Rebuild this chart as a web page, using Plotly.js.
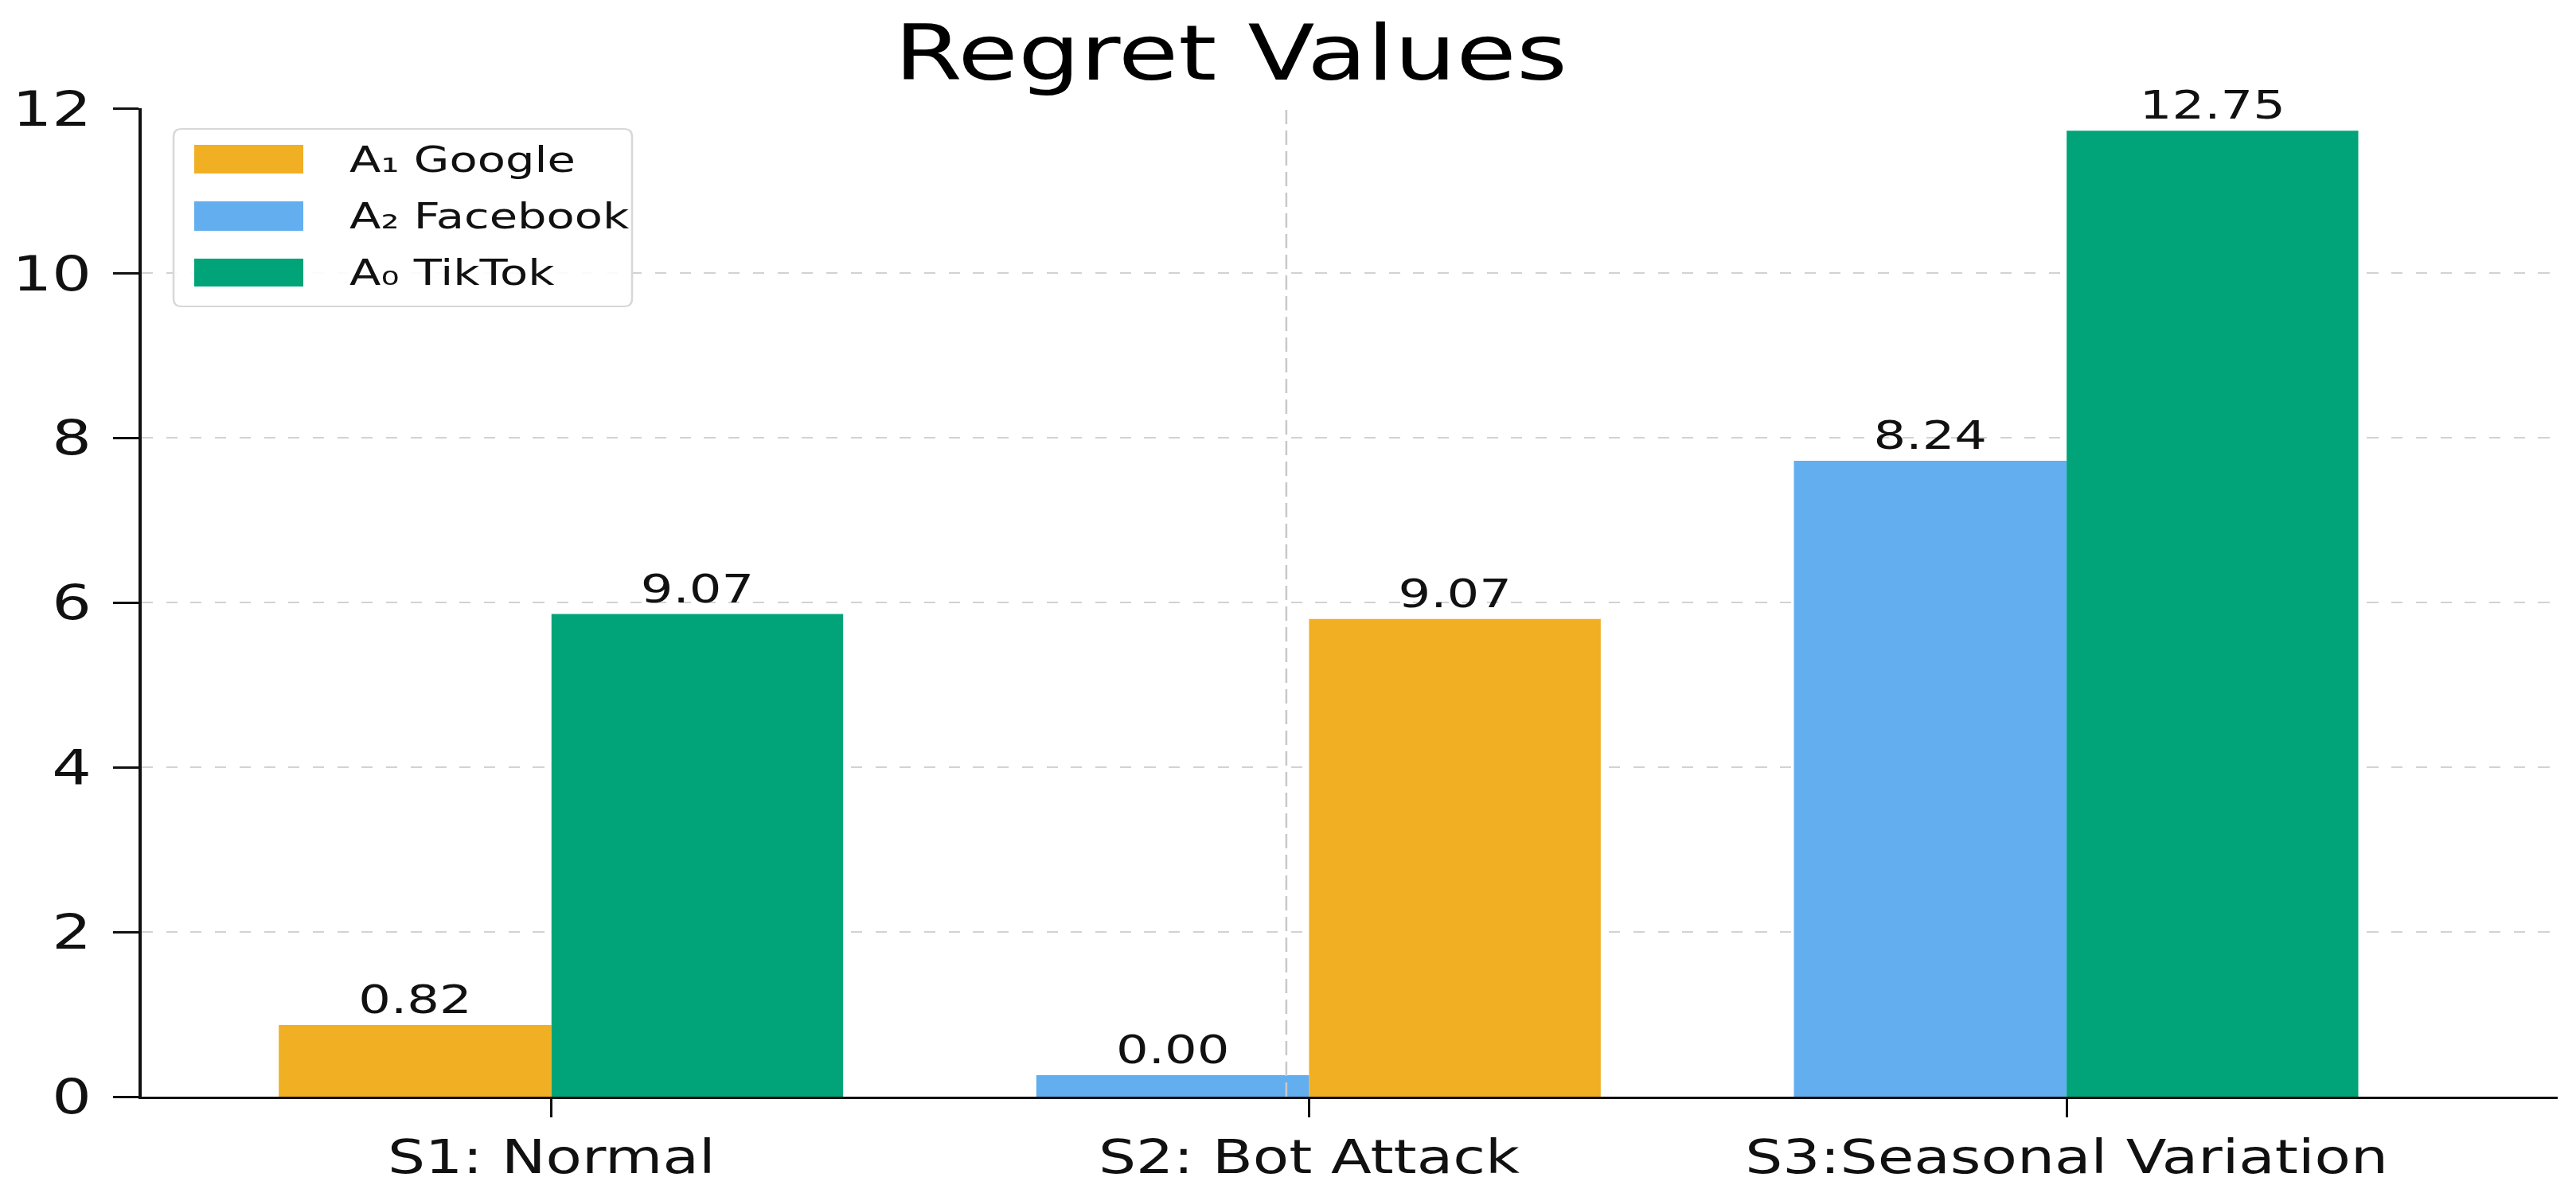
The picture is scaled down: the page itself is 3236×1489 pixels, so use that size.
<!DOCTYPE html>
<html>
<head>
<meta charset="utf-8">
<script src="https://cdn.plot.ly/plotly-3.0.1.min.js"></script>
<style>
  html, body { margin: 0; padding: 0; background: #fff; overflow: hidden; width: 3236px; height: 1489px; }
  #wrap { width: 2528px; height: 1489px; transform: scaleX(1.28); transform-origin: 0 0; }
</style>
</head>
<body>
<div id="wrap"><div id="chart"></div></div>
<script>
// ---------------- data ----------------
const categories = ["S1: Normal", "S2: Bot Attack", "S3:Seasonal Variation"];
const seriesNames = ["A\u2081 Google", "A\u2082 Facebook", "A\u2080 TikTok"];

const googleCats = ["S1: Normal", "S2: Bot Attack"];
const googleHeights = [0.87, 5.80];
const googleLabels = ["0.82", "9.07"];

const facebookCats = ["S2: Bot Attack", "S3:Seasonal Variation"];
const facebookHeights = [0.26, 7.72];
const facebookLabels = ["0.00", "8.24"];

const tiktokCats = ["S1: Normal", "S3:Seasonal Variation"];
const tiktokHeights = [5.86, 11.73];
const tiktokLabels = ["9.07", "12.75"];

const yTicks = [0, 2, 4, 6, 8, 10, 12];

// ---------------- style ----------------
const FONT = "DejaVu Sans, Verdana, sans-serif";
const COLORS = ["#F1AF24", "#62AEEE", "#00A478"];
const LEFT_W = 0.36, RIGHT_W = 0.385;
const S = 1.28;                       // horizontal stretch of the whole figure
const W = 2528, H = 1489;
const ML = 139, MR = 18, MT = 136, MB = 111;
const PW = W - ML - MR, PH = H - MT - MB;
// helpers: full-picture pixels -> paper fractions (for legend decoration only)
const px = X => (X / S - ML) / PW;
const py = Y => (H - MB - Y) / PH;

const textFont = { family: FONT, size: 50, color: "#111" };

const traces = [
  {
    type: "bar", name: seriesNames[0], x: googleCats, y: googleHeights,
    text: googleLabels, textposition: "outside", textfont: textFont, cliponaxis: false,
    offset: [-LEFT_W, 0], width: [LEFT_W, RIGHT_W],
    marker: { color: COLORS[0], line: { width: 0 } }, showlegend: false, hoverinfo: "skip"
  },
  {
    type: "bar", name: seriesNames[1], x: facebookCats, y: facebookHeights,
    text: facebookLabels, textposition: "outside", textfont: textFont, cliponaxis: false,
    offset: [-LEFT_W, -LEFT_W], width: [LEFT_W, LEFT_W],
    marker: { color: COLORS[1], line: { width: 0 } }, showlegend: false, hoverinfo: "skip"
  },
  {
    type: "bar", name: seriesNames[2], x: tiktokCats, y: tiktokHeights,
    text: tiktokLabels, textposition: "outside", textfont: textFont, cliponaxis: false,
    offset: [0, 0], width: [RIGHT_W, RIGHT_W],
    marker: { color: COLORS[2], line: { width: 0 } }, showlegend: false, hoverinfo: "skip"
  }
];

// ---------------- legend (box, handles, labels) ----------------
function roundRect(x0, y0, x1, y1, r) {
  const X0 = px(x0), X1 = px(x1), Yt = py(y0), Yb = py(y1);
  const rx = (r / S) / PW, ry = r / PH;
  return `M${X0 + rx},${Yt} L${X1 - rx},${Yt} Q${X1},${Yt} ${X1},${Yt - ry} ` +
         `L${X1},${Yb + ry} Q${X1},${Yb} ${X1 - rx},${Yb} L${X0 + rx},${Yb} ` +
         `Q${X0},${Yb} ${X0},${Yb + ry} L${X0},${Yt - ry} Q${X0},${Yt} ${X0 + rx},${Yt} Z`;
}
const legendRows = [[182, 218], [253, 290], [325, 360]];
const shapes = [
  {
    type: "line", xref: "x", yref: "y", x0: categories[1], x1: categories[1],
    x0shift: -0.03, x1shift: -0.03, y0: 0, y1: 12, layer: "above",
    line: { color: "#c9c9c9", width: 2, dash: "18px,8px" }
  },
  {
    type: "path", xref: "paper", yref: "paper", layer: "above",
    path: roundRect(218, 162, 794, 385, 10),
    fillcolor: "rgba(255,255,255,0.9)", line: { color: "#d8d8d8", width: 2 }
  }
];
const annotations = [];
legendRows.forEach((r, i) => {
  shapes.push({
    type: "rect", xref: "paper", yref: "paper", layer: "above",
    x0: px(244), x1: px(381), y0: py(r[1]), y1: py(r[0]),
    fillcolor: COLORS[i], line: { width: 0 }
  });
  annotations.push({
    xref: "paper", yref: "paper", x: px(437), y: py((r[0] + r[1]) / 2),
    xanchor: "left", yanchor: "middle", showarrow: false,
    text: seriesNames[i], font: { family: FONT, size: 45, color: "#111" }
  });
});

const layout = {
  width: W, height: H, autosize: false,
  margin: { l: ML, r: MR, t: MT, b: MB, pad: 0 },
  paper_bgcolor: "#fff", plot_bgcolor: "#fff",
  font: { family: FONT, color: "#111" },
  barmode: "overlay",
  title: {
    text: "Regret Values", font: { family: FONT, size: 96, color: "#000" },
    xref: "container", x: 1208 / W, xanchor: "center",
    yref: "container", y: 0.978, yanchor: "top"
  },
  xaxis: {
    type: "category", categoryorder: "array", categoryarray: categories,
    range: [-0.541, 2.648], fixedrange: true,
    showline: true, linewidth: 3, linecolor: "#111",
    ticks: "outside", ticklen: 23, tickwidth: 2.5, tickcolor: "#111",
    showgrid: false, zeroline: false,
    tickfont: { family: FONT, size: 58, color: "#111" }, ticklabelstandoff: 0
  },
  yaxis: {
    range: [0, 12.002], tickmode: "array", tickvals: yTicks, fixedrange: true,
    showline: true, linewidth: 3, linecolor: "#111",
    ticks: "outside", ticklen: 25, tickwidth: 3, tickcolor: "#111",
    showgrid: true, gridcolor: "#d2d2d2", gridwidth: 2.5, griddash: "11px,13px",
    zeroline: false,
    tickfont: { family: FONT, size: 61, color: "#111" }, ticklabelstandoff: 9
  },
  shapes: shapes,
  annotations: annotations,
  showlegend: false
};

Plotly.newPlot("chart", traces, layout, { staticPlot: true, displayModeBar: false });
</script>
</body>
</html>
